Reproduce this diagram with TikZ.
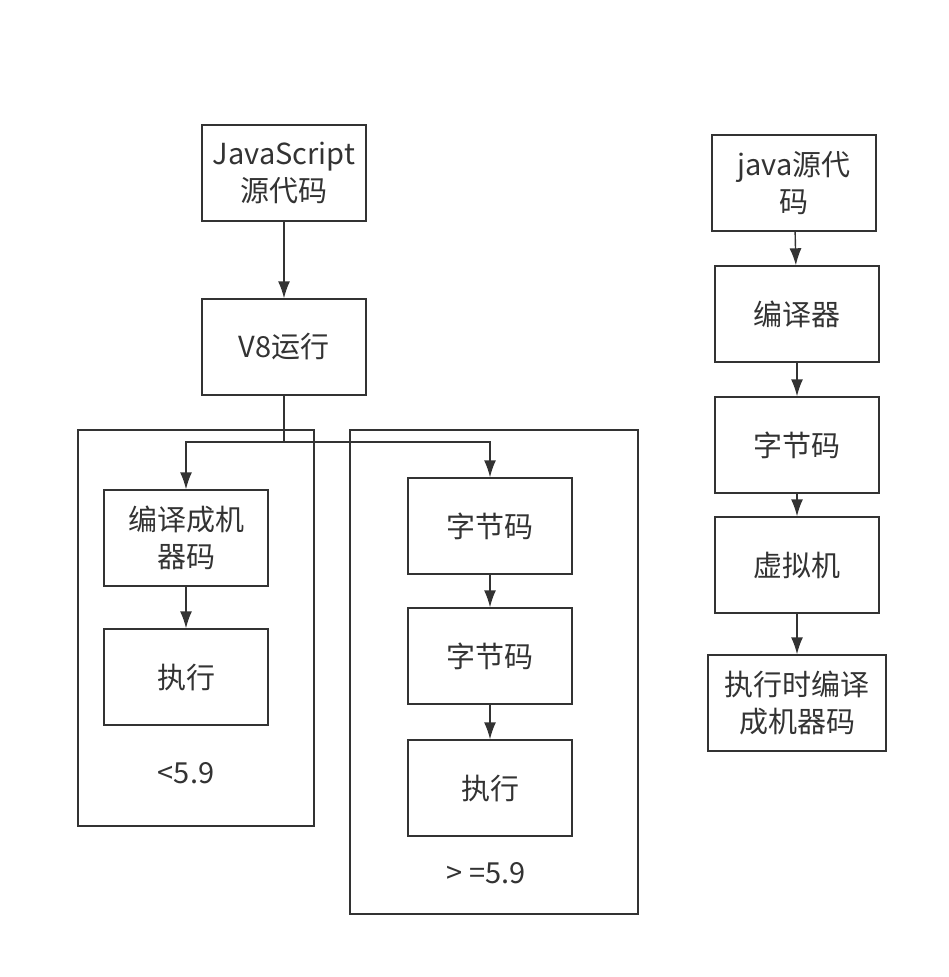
\documentclass[tikz,border=0pt]{standalone}
\usepackage{fontspec}
\newfontfamily\cjk{Noto Sans CJK SC}
\usetikzlibrary{positioning}
\usetikzlibrary{arrows.meta}

\begin{document}
\begin{tikzpicture} [x=1pt,y=-1pt,
            line width=1.4pt,
            draw=black!80,
            box/.style={draw=black!80,rectangle,minimum width=164pt,minimum height=96pt,inner sep=2pt},
            frame/.style={draw=black!80,rectangle,inner sep=0pt},
            link/.style={-{Latex[length=17pt,width=12pt]},draw=black!80},
         every node/.append style={align=center,text=black!80,font=\cjk\fontsize{29}{37}\selectfont}]
\useasboundingbox (0,0) rectangle (948,977);

%JS
\node (js) at (284,173) [box]{JavaScript\\源代码};
\node (v8) at (284,347) [box]{V8运行};
\draw [link] (js) -- (v8);

%old
\node (old) at (196,628) [frame,minimum width=236pt,minimum height=396pt]{};
\node (cm) at (186,538) [box]{编译成机\\器码};
\node (run1) at (186,677) [box]{执行};
\node (lt) at (186,773) {<5.9};
\draw [link] (cm) -- (run1);

%new
\node (new) at (494,672) [frame,minimum width=288pt,minimum height=484pt]{};
\node (bc1) at (490,526) [box]{字节码};
\node (bc2) at (490,656) [box]{字节码};
\node (run2) at (490,788) [box]{执行};
\node (ge) at (486,873) {> =5.9};
\draw [link] (bc1) -- (bc2);
\draw [link] (bc2) -- (run2);

%split
\coordinate (split) at (284,442);
\draw (v8) -- (split);
\draw [link] (split) -| (cm);
\draw [link] (split) -| (bc1);

%java
\node (jsrc) at (794,183) [box]{java源代\\码};
\node (jc) at (797,314) [box]{编译器};
\node (jbc) at (797,445) [box]{字节码};
\node (jvm) at (797,565) [box]{虚拟机};
\node (jit) at (797,703) [box,minimum width=178pt]{执行时编译\\成机器码};
\draw [link] (jsrc) -- (jc);
\draw [link] (jc) -- (jbc);
\draw [link] (jbc) -- (jvm);
\draw [link] (jvm) -- (jit);

\end{tikzpicture}
\end{document}
